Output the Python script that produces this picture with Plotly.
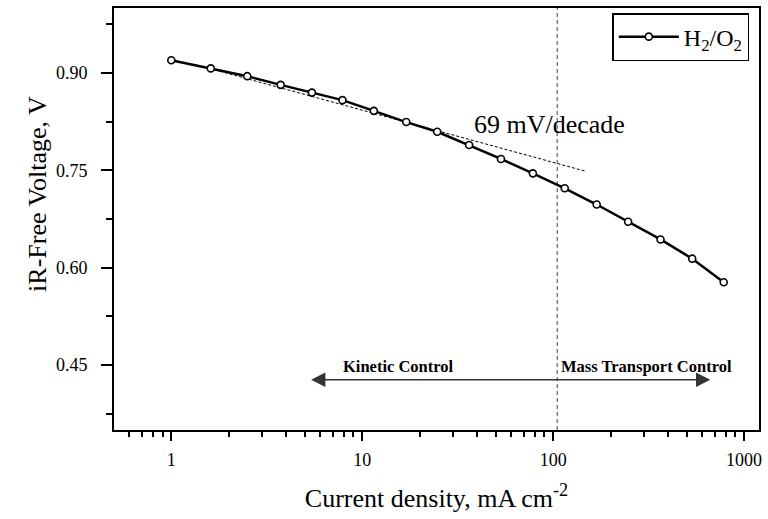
import math
import plotly.graph_objects as go

# Polarization data (iR-corrected) for the H2/O2 cell
current = [1.0, 1.61, 2.5, 3.74, 5.45, 7.88, 11.5, 17.0, 24.7, 36.3,
           53.3, 78.3, 115, 169, 247, 365, 535, 782]
voltage = [0.9195, 0.907, 0.895, 0.8816, 0.8697, 0.8581, 0.8416, 0.8243,
           0.8094, 0.789, 0.7675, 0.7453, 0.7223, 0.6973, 0.6707, 0.6435,
           0.6139, 0.5775]

# Tafel fit line in the kinetic region
tafel_x = [1.6, 146]
tafel_y = [0.9066, 0.749]

# Boundary between kinetic and mass-transport control
boundary_x = [105, 105]
boundary_y = [0.35, 1.0]

# Double-headed region arrow (x in mA cm^-2)
arrow_x = [5.3, 665]
arrow_y = 0.4274

y_ticks = [0.45, 0.60, 0.75, 0.90]
y_ticktext = ["0.45", "0.60", "0.75", "0.90"]
x_ticks = [1, 10, 100, 1000]
x_ticktext = ["1", "10", "100", "1000"]

FONT = "Times New Roman"

fig = go.Figure()

fig.add_trace(go.Scatter(
    x=boundary_x, y=boundary_y, mode="lines",
    line=dict(color="#444444", width=1, dash="4px,3px"),
    showlegend=False, hoverinfo="skip"))

fig.add_trace(go.Scatter(
    x=tafel_x, y=tafel_y, mode="lines",
    line=dict(color="black", width=1, dash="3px,2px"),
    showlegend=False, hoverinfo="skip"))

fig.add_trace(go.Scatter(
    x=current, y=voltage, mode="lines+markers",
    name="H<sub>2</sub>/O<sub>2</sub>",
    line=dict(color="black", width=2.5),
    marker=dict(symbol="circle", size=7, color="white",
                line=dict(color="black", width=1.6))))

fig.add_annotation(
    x=math.log10(arrow_x[1]), y=arrow_y,
    ax=math.log10(arrow_x[0]), ay=arrow_y,
    xref="x", yref="y", axref="x", ayref="y",
    text="", showarrow=True, arrowside="end+start",
    arrowhead=2, arrowsize=2.2, arrowwidth=1.3, arrowcolor="#333333")

fig.add_annotation(
    x=math.log10(15.4), y=0.4485, xref="x", yref="y",
    text="<b>Kinetic Control</b>", showarrow=False,
    font=dict(family=FONT, size=16.5, color="black"))

fig.add_annotation(
    x=math.log10(310), y=0.4485, xref="x", yref="y",
    text="<b>Mass Transport Control</b>", showarrow=False,
    font=dict(family=FONT, size=16.5, color="black"))

fig.add_annotation(
    x=math.log10(37.6), y=0.821, xref="x", yref="y",
    text="69 mV/decade", showarrow=False, xanchor="left",
    font=dict(family=FONT, size=26, color="black"))

# Y-axis title, placed a little above the plot's vertical centre
fig.add_annotation(
    x=-0.119, y=0.56, xref="paper", yref="paper",
    xanchor="center", yanchor="middle",
    text="iR-Free Voltage, V", showarrow=False, textangle=-90,
    font=dict(family=FONT, size=26, color="black"))

fig.update_layout(
    width=768, height=519,
    margin=dict(l=114, r=7, t=6, b=89),
    paper_bgcolor="white", plot_bgcolor="white",
    font=dict(family=FONT, color="black"),
    showlegend=True,
    legend=dict(x=0.985, y=0.988, xanchor="right", yanchor="top",
                bordercolor="black", borderwidth=1.5, bgcolor="white",
                font=dict(family=FONT, size=24, color="black"),
                itemwidth=60, tracegroupgap=0),
)

fig.update_xaxes(
    type="log", range=[-0.3, 3.078],
    tickmode="array", tickvals=x_ticks, ticktext=x_ticktext,
    ticks="outside", ticklen=9, tickwidth=1.5, tickcolor="black",
    tickfont=dict(family=FONT, size=18, color="black"),
    ticklabelstandoff=3,
    showline=True, linecolor="black", linewidth=2, mirror=True,
    showgrid=False, zeroline=False,
    minor=dict(ticks="outside", ticklen=5, tickwidth=1.5, tickcolor="black",
               dtick="D1", showgrid=False),
    title=dict(text="Current density, mA cm<sup>-2</sup>",
               font=dict(family=FONT, size=26, color="black"), standoff=20),
)

fig.update_yaxes(
    range=[0.35, 1.0],
    tickmode="array", tickvals=y_ticks, ticktext=y_ticktext,
    ticks="outside", ticklen=11, tickwidth=1.5, tickcolor="black",
    tickfont=dict(family=FONT, size=18, color="black"),
    ticklabelstandoff=10,
    showline=True, linecolor="black", linewidth=2, mirror=True,
    showgrid=False, zeroline=False,
    minor=dict(ticks="outside", ticklen=6, tickwidth=1.5, tickcolor="black",
               tick0=0.375, dtick=0.15, showgrid=False),
)

fig.write_html("out.html")
